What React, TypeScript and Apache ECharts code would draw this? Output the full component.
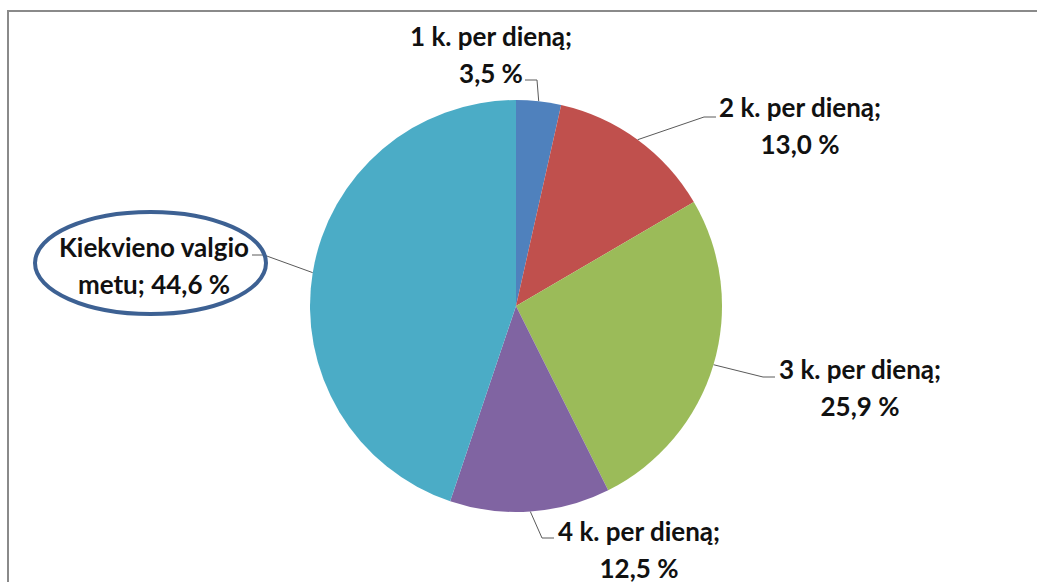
import React, { useEffect, useRef } from "react";
import * as echarts from "echarts";

// Pie data: how often respondents do it, share of answers in %
const categories = [
  "1 k. per dieną",
  "2 k. per dieną",
  "3 k. per dieną",
  "4 k. per dieną",
  "Kiekvieno valgio metu",
];
const shares = [3.5, 13.0, 25.9, 12.5, 44.6];
const sliceColors = ["#4F81BD", "#C0504D", "#9BBB59", "#8064A2", "#4BACC6"];

// Label block centres and where each leader line meets its label
const labelSpots = [
  { x: 491, y: 54, end: [525, 80] },
  { x: 800, y: 125, end: [716, 117] },
  { x: 860, y: 387, end: [775, 377] },
  { x: 639, y: 549, end: [554, 538] },
  { x: 154, y: 265, end: [252, 255] },
];

const CENTER = [516, 306];
const RADIUS = 206;

const fmt = (v: number) => v.toFixed(1).replace(".", ",");

function labelText(name: string, value: number): string {
  const words = name.split(" ");
  if (name.length > 16) {
    const last = words.pop();
    return `${words.join(" ")}\n${last}; ${fmt(value)} %`;
  }
  return `${name};\n${fmt(value)} %`;
}

export default function App() {
  const ref = useRef<HTMLDivElement>(null);

  useEffect(() => {
    document.body.style.margin = "0";
    document.body.style.overflow = "hidden";
    if (!ref.current) return;
    const chart = echarts.init(ref.current, undefined, { renderer: "svg" });

    const total = shares.reduce((a, b) => a + b, 0);
    let acc = 0;
    const midAngles = shares.map((v) => {
      const mid = ((acc + v / 2) / total) * Math.PI * 2;
      acc += v;
      return mid;
    });

    chart.setOption({
      animation: false,
      backgroundColor: "#ffffff",
      graphic: [
        {
          type: "rect",
          silent: true,
          shape: { x: 8, y: 11, width: 1100, height: 700 },
          style: { fill: "none", stroke: "#8a8a8a", lineWidth: 2 },
        },
        {
          type: "ellipse",
          silent: true,
          z: 10,
          shape: { cx: 150.5, cy: 263, rx: 115.5, ry: 51 },
          style: { fill: "none", stroke: "#3D6193", lineWidth: 4 },
        },
      ],
      series: [
        {
          type: "pie",
          center: CENTER,
          radius: RADIUS,
          startAngle: 90,
          clockwise: true,
          silent: true,
          data: categories.map((name, i) => ({
            name,
            value: shares[i],
            itemStyle: { color: sliceColors[i] },
          })),
          label: {
            show: true,
            position: "outside",
            formatter: (p: any) => labelText(p.name, p.value),
            fontFamily: "Lato, 'Noto Sans', sans-serif",
            fontWeight: "bold",
            fontSize: 26,
            lineHeight: 37,
            color: "#111111",
            align: "center",
          },
          labelLine: {
            show: true,
            length: 10,
            length2: 10,
            lineStyle: { color: "#5a5a5a", width: 1 },
          },
          labelLayout: (params: any) => {
            const i = params.dataIndex;
            const spot = labelSpots[i];
            let anchor: number[];
            if (params.labelLinePoints && params.labelLinePoints[0]) {
              anchor = params.labelLinePoints[0];
            } else {
              const a = midAngles[i];
              anchor = [CENTER[0] + RADIUS * Math.sin(a), CENTER[1] - RADIUS * Math.cos(a)];
            }
            const dir = Math.sign(anchor[0] - spot.end[0]) || 1;
            const elbow = [spot.end[0] + 12 * dir, spot.end[1]];
            return {
              x: spot.x,
              y: spot.y,
              align: "center",
              verticalAlign: "middle",
              labelLinePoints: [anchor, elbow, spot.end],
            };
          },
        },
      ],
    });

    return () => chart.dispose();
  }, []);

  return <div ref={ref} style={{ width: 1037, height: 582 }} />;
}
